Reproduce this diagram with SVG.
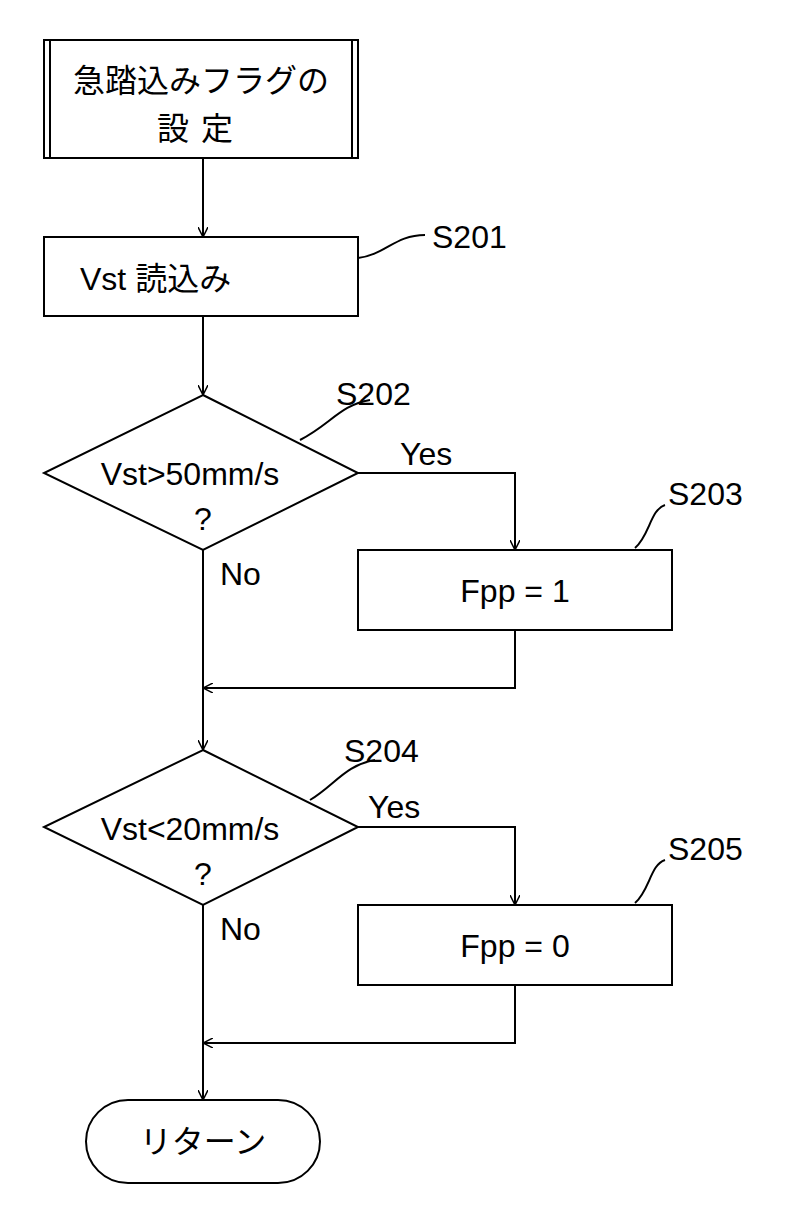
<svg xmlns="http://www.w3.org/2000/svg" width="787" height="1213" viewBox="0 0 787 1213">
<defs>
<marker id="ar" viewBox="0 0 10 10" refX="10" refY="5" markerWidth="10" markerHeight="10" markerUnits="userSpaceOnUse" orient="auto"><path d="M0,0 L10,5 L0,10" fill="none" stroke="#000" stroke-width="1.5"/></marker>
<style>
.s{fill:#fff;stroke:#000;stroke-width:2}
.l{fill:none;stroke:#000;stroke-width:2}
.t{font-family:"Liberation Sans","Noto Sans CJK JP",sans-serif;font-size:32px;fill:#000}
.j{font-family:"Noto Sans CJK JP",sans-serif;font-size:32px;fill:#000}
</style>
</defs>
<rect width="787" height="1213" fill="#fff"/>
<g id="connectors">
<line class="l" x1="203" y1="158" x2="203" y2="237" marker-end="url(#ar)"/>
<line class="l" x1="203" y1="316" x2="203" y2="395" marker-end="url(#ar)"/>
<polyline class="l" points="358,473 515,473 515,550" marker-end="url(#ar)"/>
<polyline class="l" points="515,630 515,688 203,688" marker-end="url(#ar)"/>
<line class="l" x1="203" y1="550" x2="203" y2="750" marker-end="url(#ar)"/>
<polyline class="l" points="358,827 515,827 515,905" marker-end="url(#ar)"/>
<polyline class="l" points="515,985 515,1043 203,1043" marker-end="url(#ar)"/>
<line class="l" x1="203" y1="905" x2="203" y2="1100" marker-end="url(#ar)"/>
<path class="l" d="M358,258 C385,255 395,235 425,235"/>
<path class="l" d="M300,440 C330,425 340,405 370,400"/>
<path class="l" d="M635,548 C650,535 650,510 665,505"/>
<path class="l" d="M310,800 C335,785 345,765 375,760"/>
<path class="l" d="M635,903 C650,890 650,865 665,860"/>
<text class="t" x="400" y="465">Yes</text>
<text class="t" x="220" y="585">No</text>
<text class="t" x="368" y="818">Yes</text>
<text class="t" x="220" y="940">No</text>
</g>
<g id="start">
<rect class="s" x="44" y="40" width="314" height="118"/>
<line class="l" x1="50" y1="40" x2="50" y2="158"/>
<line class="l" x1="352" y1="40" x2="352" y2="158"/>
<text class="j" x="201" y="92" text-anchor="middle">急踏込みフラグの</text>
<text class="j" x="201" y="140" text-anchor="middle" letter-spacing="12">設定</text>
</g>
<g id="s201">
<rect class="s" x="44" y="237" width="314" height="79"/>
<text class="t" x="80" y="290">Vst 読込み</text>
<text class="t" x="432" y="248">S201</text>
</g>
<g id="s202">
<polygon class="s" points="203,395 358,473 203,550 44,473"/>
<text class="t" x="190" y="485" text-anchor="middle">Vst&gt;50mm/s</text>
<text class="t" x="203" y="530" text-anchor="middle">?</text>
<text class="t" x="336" y="405">S202</text>
</g>
<g id="s203">
<rect class="s" x="358" y="550" width="314" height="80"/>
<text class="t" x="515" y="602" text-anchor="middle">Fpp = 1</text>
<text class="t" x="668" y="505">S203</text>
</g>
<g id="s204">
<polygon class="s" points="203,750 358,827 203,905 44,827"/>
<text class="t" x="190" y="840" text-anchor="middle">Vst&lt;20mm/s</text>
<text class="t" x="203" y="885" text-anchor="middle">?</text>
<text class="t" x="344" y="762">S204</text>
</g>
<g id="s205">
<rect class="s" x="358" y="905" width="314" height="80"/>
<text class="t" x="515" y="957" text-anchor="middle">Fpp = 0</text>
<text class="t" x="668" y="860">S205</text>
</g>
<g id="return">
<rect class="s" x="86" y="1100" width="234" height="83" rx="42"/>
<text class="j" x="203" y="1153" text-anchor="middle">リターン</text>
</g>
</svg>
